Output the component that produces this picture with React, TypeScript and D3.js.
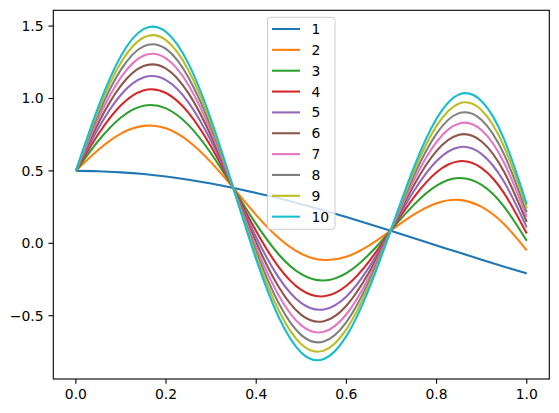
import React from 'react';
import * as d3 from 'd3';

const xValues = [0, 0.05, 0.1, 0.15, 0.2, 0.25, 0.3, 0.35, 0.4, 0.45, 0.5, 0.55, 0.6, 0.65, 0.7, 0.75, 0.8, 0.85, 0.9, 0.95, 1.0];

const series1 = [0.5, 0.498, 0.49, 0.478, 0.461, 0.439, 0.413, 0.382, 0.348, 0.311, 0.27, 0.227, 0.181, 0.134, 0.085, 0.035, -0.015, -0.064, -0.114, -0.162, -0.208];
const series2 = [0.5, 0.646, 0.758, 0.811, 0.794, 0.705, 0.559, 0.38, 0.195, 0.037, -0.072, -0.115, -0.093, -0.016, 0.091, 0.199, 0.277, 0.3, 0.251, 0.131, -0.049];
const series3 = [0.5, 0.708, 0.869, 0.95, 0.932, 0.816, 0.62, 0.378, 0.132, -0.077, -0.213, -0.257, -0.206, -0.078, 0.094, 0.267, 0.398, 0.451, 0.403, 0.252, 0.017];
const series4 = [0.5, 0.755, 0.954, 1.056, 1.038, 0.901, 0.667, 0.377, 0.083, -0.164, -0.322, -0.366, -0.293, -0.126, 0.095, 0.319, 0.491, 0.567, 0.519, 0.345, 0.067];
const series5 = [0.5, 0.795, 1.026, 1.145, 1.127, 0.972, 0.706, 0.377, 0.042, -0.237, -0.413, -0.457, -0.367, -0.166, 0.097, 0.363, 0.569, 0.664, 0.616, 0.423, 0.11];
const series6 = [0.5, 0.831, 1.089, 1.224, 1.206, 1.035, 0.741, 0.376, 0.006, -0.302, -0.494, -0.538, -0.431, -0.202, 0.099, 0.402, 0.638, 0.75, 0.703, 0.492, 0.148];
const series7 = [0.5, 0.862, 1.146, 1.295, 1.277, 1.092, 0.772, 0.375, -0.027, -0.36, -0.567, -0.611, -0.49, -0.234, 0.1, 0.437, 0.701, 0.828, 0.781, 0.555, 0.182];
const series8 = [0.5, 0.892, 1.199, 1.36, 1.342, 1.144, 0.801, 0.375, -0.057, -0.414, -0.634, -0.678, -0.544, -0.263, 0.101, 0.469, 0.758, 0.899, 0.852, 0.612, 0.213];
const series9 = [0.5, 0.919, 1.248, 1.421, 1.403, 1.193, 0.828, 0.374, -0.085, -0.464, -0.697, -0.741, -0.594, -0.291, 0.102, 0.499, 0.811, 0.966, 0.919, 0.665, 0.242];
const series10 = [0.5, 0.944, 1.294, 1.479, 1.46, 1.239, 0.853, 0.374, -0.111, -0.511, -0.755, -0.799, -0.641, -0.316, 0.103, 0.527, 0.861, 1.028, 0.981, 0.716, 0.269];

const seriesLabels = ['1', '2', '3', '4', '5', '6', '7', '8', '9', '10'];
const colors = ['#1f77b4', '#ff7f0e', '#2ca02c', '#d62728', '#9467bd', '#8c564b', '#e377c2', '#7f7f7f', '#bcbd22', '#17becf'];
const xTicks = [0, 0.2, 0.4, 0.6, 0.8, 1.0];
const yTicks = [-0.5, 0, 0.5, 1.0, 1.5];

const allSeries = [series1, series2, series3, series4, series5, series6, series7, series8, series9, series10];

export default function App() {
  const W = 559;
  const H = 413;
  const left = 53.3;
  const right = 549.3;
  const top = 10.3;
  const bottom = 379;
  const font = 'DejaVu Sans, sans-serif';
  const fs = 13.9;
  const tickLen = 4.86;

  const x = d3.scaleLinear().domain([-0.05, 1.05]).range([left, right]);
  const y = d3.scaleLinear().domain([-0.937, 1.609]).range([bottom, top]);
  const fmt = d3.format('.1f');

  const line = d3
    .line<number>()
    .x((_, i) => x(xValues[i]))
    .y((d) => y(d))
    .curve(d3.curveNatural);

  // legend layout
  const legX = 267.5;
  const legY = 17.3;
  const legW = 67.5;
  const legH = 212;
  const rowStart = 29;
  const rowStep = 20.85;
  const handleX0 = 272;
  const handleX1 = 300;
  const textX = 311.5;

  return (
    <svg
      width={W}
      height={H}
      style={{ position: 'absolute', left: 0, top: 0, background: '#fff' }}
      fontFamily={font}
    >
      <rect x={0} y={0} width={W} height={H} fill="#fff" />
      <defs>
        <clipPath id="plotclip">
          <rect x={left} y={top} width={right - left} height={bottom - top} />
        </clipPath>
      </defs>
      <g clipPath="url(#plotclip)">
        {allSeries.map((s, i) => (
          <path
            key={i}
            d={line(s) || ''}
            fill="none"
            stroke={colors[i]}
            strokeWidth={2.08}
            strokeLinejoin="round"
            strokeLinecap="butt"
          />
        ))}
      </g>
      <rect
        x={left}
        y={top}
        width={right - left}
        height={bottom - top}
        fill="none"
        stroke="#000"
        strokeWidth={1.1}
      />
      {xTicks.map((t) => (
        <g key={'x' + t}>
          <line x1={x(t)} x2={x(t)} y1={bottom} y2={bottom + tickLen} stroke="#000" strokeWidth={1.1} />
          <text x={x(t)} y={399.4} fontSize={fs} textAnchor="middle" fill="#000">
            {fmt(t)}
          </text>
        </g>
      ))}
      {yTicks.map((t) => (
        <g key={'y' + t}>
          <line x1={left - tickLen} x2={left} y1={y(t)} y2={y(t)} stroke="#000" strokeWidth={1.1} />
          <text x={left - tickLen - 4.86} y={y(t) + 5} fontSize={fs} textAnchor="end" fill="#000">
            {fmt(t)}
          </text>
        </g>
      ))}
      <rect
        x={legX}
        y={legY}
        width={legW}
        height={legH}
        rx={2.8}
        ry={2.8}
        fill="#fff"
        fillOpacity={0.8}
        stroke="#cccccc"
        strokeWidth={1}
      />
      {seriesLabels.map((lab, i) => {
        const ry = rowStart + i * rowStep;
        return (
          <g key={'leg' + lab}>
            <line x1={handleX0} x2={handleX1} y1={ry} y2={ry} stroke={colors[i]} strokeWidth={2.08} />
            <text x={textX} y={ry + 5} fontSize={fs} fill="#000">
              {lab}
            </text>
          </g>
        );
      })}
    </svg>
  );
}
